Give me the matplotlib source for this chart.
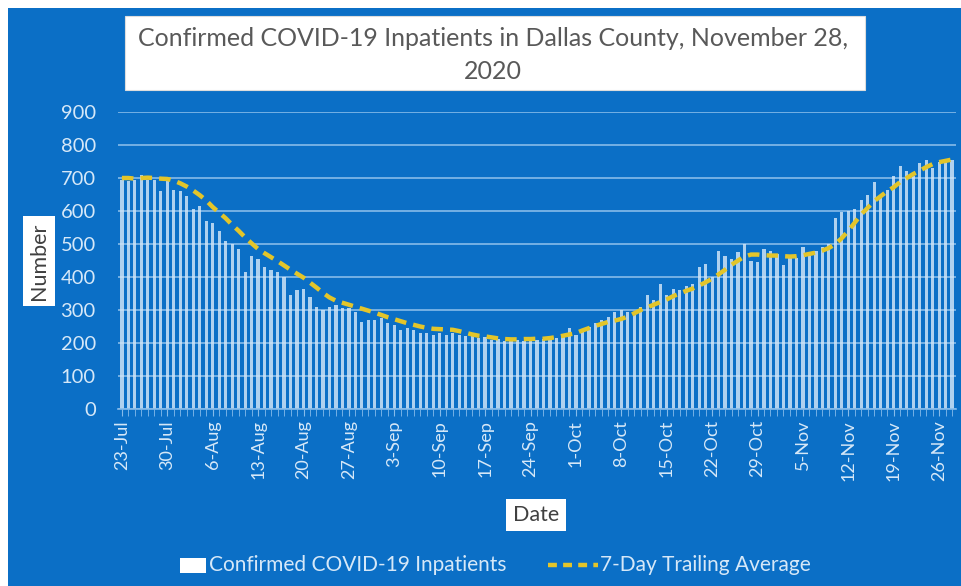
import matplotlib
matplotlib.use("Agg")
import matplotlib.pyplot as plt
from matplotlib.patches import Rectangle
import numpy as np

W, H = 961, 586

tick_labels = ["23-Jul", "30-Jul", "6-Aug", "13-Aug", "20-Aug", "27-Aug", "3-Sep",
               "10-Sep", "17-Sep", "24-Sep", "1-Oct", "8-Oct", "15-Oct", "22-Oct",
               "29-Oct", "5-Nov", "12-Nov", "19-Nov", "26-Nov"]

# daily confirmed inpatients, 23-Jul .. 28-Nov
inpatients = [695, 690, 695, 710, 695, 693, 660, 690, 665, 660, 645, 605, 615, 570,
              565, 540, 510, 500, 485, 415, 465, 455, 430, 420, 415, 400, 345, 360,
              365, 340, 310, 300, 310, 315, 305, 305, 295, 265, 270, 270, 275, 260,
              255, 240, 245, 240, 230, 230, 225, 230, 225, 230, 225, 220, 225, 215,
              218, 210, 212, 205, 210, 208, 205, 210, 208, 212, 210, 215, 225, 245,
              225, 240, 250, 262, 270, 280, 295, 300, 295, 290, 310, 345, 330, 378,
              345, 365, 360, 372, 380, 430, 438, 400, 478, 463, 455, 475, 500, 450,
              445, 485, 480, 470, 435, 465, 458, 490, 470, 480, 490, 500, 578,
              598, 600, 605, 633, 648, 688, 645, 665, 705, 735, 720, 705, 745, 755,
              730, 750, 750, 755]

# 7-day trailing average, same days
trailing_avg = [700, 700, 698, 700, 701, 700, 698, 697, 692, 684, 674, 662, 648, 632,
                612, 595, 578, 558, 540, 520, 502, 485, 472, 460, 448, 435, 422, 410,
                398, 383, 368, 352, 338, 328, 322, 316, 310, 304, 298, 292, 285, 278,
                272, 266, 260, 255, 250, 246, 243, 242, 241, 240, 236, 231, 226, 222,
                220, 217, 214, 212, 211, 211, 212, 212, 213, 213, 215, 218, 222, 226,
                230, 238, 245, 252, 258, 264, 268, 273, 280, 290, 300, 308, 316, 324,
                332, 342, 350, 358, 365, 374, 384, 395, 408, 422, 437, 450, 462, 468,
                468, 466, 465, 465, 463, 462, 463, 466, 470, 474, 480, 488, 500, 518,
                540, 565, 590, 610, 630, 645, 660, 672, 688, 700, 712, 722, 733, 742,
                748, 752, 756]

BLUE = "#0b6fc6"
LIGHT = "#d6e8f8"
YEL = "#e3c52a"

fig = plt.figure(figsize=(W / 100, H / 100), dpi=100, facecolor="white")
# blue background panel (thin white border top/left)
fig.patches.append(Rectangle((8 / W, 0), 1 - 8 / W, 1 - 8 / H, transform=fig.transFigure,
                             facecolor=BLUE, edgecolor="none", zorder=-10))

ax = fig.add_axes([118 / W, 1 - 409 / H, (956 - 118) / W, (409 - 112) / H])
ax.set_zorder(2)
ax.set_facecolor(BLUE)

x = np.arange(len(inpatients))
ax.bar(x, inpatients, width=0.5, color="#d4e7f9", alpha=0.82, zorder=2, linewidth=0)
ax.plot(x, trailing_avg, color=YEL, lw=3.2, linestyle=(0, (2.6, 1.6)), zorder=3)

ax.set_xlim(-0.6, len(inpatients) - 0.4)
ax.set_ylim(0, 900)
ax.set_yticks(range(0, 901, 100))
ax.yaxis.grid(True, color="#86bbea", lw=1.2, zorder=1)
ax.set_axisbelow(True)

major = np.arange(0, len(inpatients), 7)
ax.set_xticks(major)
ax.set_xticklabels(tick_labels, rotation=90, fontsize=13, color=LIGHT, fontfamily="Lato")
ax.set_xticks(x, minor=True)
ax.tick_params(axis="x", which="both", length=5, color="#86bbea", pad=3)
ax.tick_params(axis="y", length=0, labelsize=14.5, labelcolor=LIGHT, pad=16)
for lab in ax.get_yticklabels():
    lab.set_fontfamily("Lato")

for s in ["top", "right", "left"]:
    ax.spines[s].set_visible(False)
ax.spines["bottom"].set_color("#86bbea")
ax.spines["bottom"].set_linewidth(1.2)

# title box
fig.patches.append(Rectangle((125 / W, 1 - 90 / H), (865 - 125) / W, (90 - 16) / H,
                             transform=fig.transFigure, facecolor="white",
                             edgecolor="#dddddd", lw=0.8, zorder=5))
fig.text(493 / W, 1 - 55 / H, "Confirmed COVID-19 Inpatients in Dallas County, November 28,\n2020",
         ha="center", va="center", fontsize=18, color="#595959", fontfamily="Lato",
         linespacing=1.55, zorder=6)

# y-axis label box
fig.text(39 / W, 1 - 261 / H, "Number", rotation=90, ha="center", va="center",
         fontsize=15.5, color="#404040", fontfamily="Lato", zorder=6,
         bbox=dict(facecolor="white", edgecolor="none", boxstyle="square,pad=0.3"))

# x-axis label box
fig.text(536 / W, 1 - 515 / H, "Date", ha="center", va="center",
         fontsize=15.5, color="#404040", fontfamily="Lato", zorder=6,
         bbox=dict(facecolor="white", edgecolor="none", boxstyle="square,pad=0.3"))

# legend
fig.patches.append(Rectangle((180 / W, 1 - 573 / H), 26 / W, 15 / H, transform=fig.transFigure,
                             facecolor="white", edgecolor="none", zorder=5))
fig.text(209 / W, 1 - 565 / H, "Confirmed COVID-19 Inpatients", ha="left", va="center",
         fontsize=15, color=LIGHT, fontfamily="Lato")
fig.lines.append(plt.Line2D([548 / W, 598 / W], [1 - 565 / H, 1 - 565 / H],
                            transform=fig.transFigure, color=YEL, lw=3.2,
                            linestyle=(0, (2.0, 1.4))))
fig.text(600 / W, 1 - 565 / H, "7-Day Trailing Average", ha="left", va="center",
         fontsize=15, color=LIGHT, fontfamily="Lato")

fig.savefig("out.png", dpi=100, facecolor=fig.get_facecolor())
